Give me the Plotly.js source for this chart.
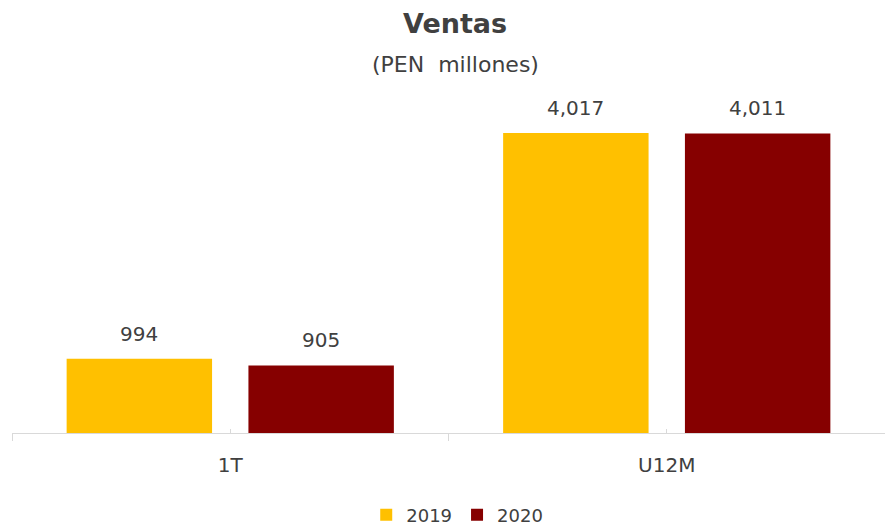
<!DOCTYPE html>
<html><head><meta charset="utf-8">
<script src="https://cdn.plot.ly/plotly-3.0.1.min.js"></script>
<style>html,body{margin:0;padding:0;background:#fff}#chart{width:885px;height:525px}</style>
</head><body><div id="chart"></div>
<script>
const categories = ["1T", "U12M"];
const series2019 = [994, 4017];
const series2020 = [905, 4011];
const seriesNames = ["2019", "2020"];
const colors = ["#FFC000", "#860000"];
const FONT = "DejaVu Sans, Verdana, sans-serif";
const TXT = "#404040";

const W = 885, H = 525;
const margin = {l: 12, r: 0, t: 90, b: 92};
const bargap = 0.167, bargroupgap = 0.2;
const plotW = W - margin.l - margin.r;
const plotH = H - margin.t - margin.b;
const catW = plotW / categories.length;
const barOffsetPx = catW * (1 - bargap) / 4;
const paperY = px => (H - margin.b - px) / plotH;

const allSeries = [series2019, series2020];
const traces = allSeries.map((vals, i) => ({
  type: "bar",
  name: seriesNames[i],
  x: categories,
  y: vals,
  marker: {color: colors[i]},
  hoverinfo: "none"
}));
// invisible helper trace to drive the overlay axis with centre ticks
traces.push({type: "scatter", mode: "none", x: categories, y: series2019, xaxis: "x2", showlegend: false, hoverinfo: "none"});

const annotations = [];
allSeries.forEach((vals, i) => {
  vals.forEach((v, j) => {
    annotations.push({
      x: categories[j], y: v, xref: "x", yref: "y",
      text: v.toLocaleString("en-US"),
      showarrow: false, yanchor: "bottom",
      xshift: (i === 0 ? -1 : 1) * barOffsetPx, yshift: 11,
      font: {family: FONT, size: 20, color: TXT}
    });
  });
});
annotations.push(
  {text: "<b>Ventas</b>", xref: "paper", yref: "paper", x: 0.508, y: paperY(23), yanchor: "middle",
   showarrow: false, font: {family: FONT, size: 27, color: TXT}},
  {text: "(PEN  millones)", xref: "paper", yref: "paper", x: 0.508, y: paperY(64), yanchor: "middle",
   showarrow: false, font: {family: FONT, size: 22, color: TXT}}
);

const layout = {
  width: W, height: H,
  margin: margin,
  paper_bgcolor: "#fff", plot_bgcolor: "#fff",
  barmode: "group",
  bargap: bargap,
  bargroupgap: bargroupgap,
  font: {family: FONT, color: TXT},
  xaxis: {
    type: "category", categoryarray: categories, range: [-0.5, 1.5],
    showline: true, linecolor: "#D9D9D9", linewidth: 1,
    ticks: "outside", tickson: "boundaries", ticklen: 7, tickcolor: "#D9D9D9", tickwidth: 1,
    ticklabelstandoff: 14,
    tickfont: {family: FONT, size: 20, color: TXT},
    showgrid: false, zeroline: false, fixedrange: true
  },
  xaxis2: {
    type: "category", categoryarray: categories, range: [-0.5, 1.5],
    overlaying: "x", side: "bottom", anchor: "y",
    showline: false, ticks: "inside", ticklen: 4, tickcolor: "#D9D9D9", tickwidth: 1,
    showticklabels: false, showgrid: false, zeroline: false, fixedrange: true
  },
  yaxis: {
    range: [0, 4593], visible: false, showgrid: false, zeroline: false, fixedrange: true
  },
  showlegend: true,
  legend: {
    orientation: "h", x: 0.51, xanchor: "center", yref: "container", y: 10 / H, yanchor: "middle",
    font: {family: FONT, size: 18, color: TXT}, traceorder: "normal"
  },
  annotations: annotations
};
Plotly.newPlot("chart", traces, layout, {displayModeBar: false, staticPlot: true});
</script></body></html>
